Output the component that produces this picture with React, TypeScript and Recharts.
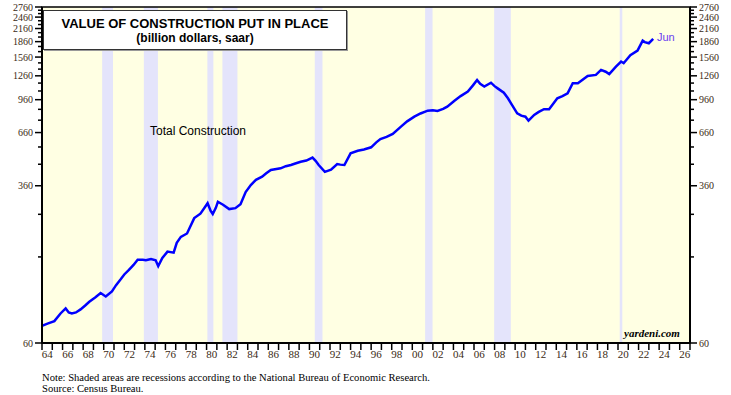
import React from 'react';
import { ComposedChart, Line, XAxis, YAxis, ReferenceArea } from 'recharts';

// decimal year of each reading
const dates = [
  1964.0, 1964.6, 1965.2, 1965.8, 1966.3, 1966.6, 1966.9, 1967.3, 1967.75, 1968.2,
  1968.6, 1969.2, 1969.7, 1970.2, 1970.8, 1971.2, 1971.65, 1972.0, 1972.45, 1972.9,
  1973.3, 1973.8, 1974.1, 1974.6, 1975.05, 1975.3, 1975.7, 1976.2, 1976.8, 1977.1,
  1977.5, 1978.1, 1978.8, 1979.4, 1979.8, 1980.1, 1980.4, 1980.6, 1980.9, 1981.1,
  1981.6, 1982.2, 1982.8, 1983.3, 1983.8, 1984.3, 1984.8, 1985.4, 1985.8, 1986.25,
  1987.2, 1987.7, 1988.2, 1988.7, 1989.15, 1989.7, 1990.3, 1990.6, 1990.9, 1991.5,
  1992.1, 1992.7, 1993.0, 1993.4, 1994.0, 1994.7, 1995.3, 1996.0, 1996.5, 1996.9,
  1997.5, 1998.1, 1998.9, 1999.5, 2000.2, 2000.8, 2001.5, 2002.0, 2002.45, 2003.0,
  2003.4, 2004.1, 2004.7, 2005.4, 2005.9, 2006.3, 2006.6, 2007.0, 2007.65, 2008.0,
  2008.3, 2008.9, 2009.3, 2009.6, 2010.2, 2010.6, 2011.0, 2011.3, 2011.85, 2012.3,
  2012.8, 2013.3, 2014.1, 2014.6, 2015.1, 2015.6, 2016.1, 2017.05, 2017.85, 2018.35,
  2018.8, 2019.15, 2019.8, 2020.3, 2020.55, 2021.2, 2021.9, 2022.4, 2022.6, 2023.0,
  2023.42,
];

// total construction, billion dollars saar
const values = [
  73, 75, 77, 84, 89, 85, 84, 85, 88, 92,
  96, 101, 106, 102, 108, 116, 124, 131, 138, 146,
  155, 155, 154, 156, 154, 144, 158, 170, 168, 188,
  201, 209, 249, 262, 280, 295, 270, 261, 280, 300,
  290, 276, 279, 292, 335, 363, 385, 399, 415, 431,
  439, 450, 456, 465, 473, 480, 496, 478, 456, 422,
  432, 461, 458, 456, 521, 536, 544, 558, 590, 613,
  628, 650, 706, 750, 791, 820, 847, 852, 845, 865,
  887, 948, 1000, 1052, 1130, 1200, 1150, 1115, 1165, 1120,
  1092, 1039, 975, 921, 822, 800, 791, 756, 807, 835,
  861, 861, 976, 1000, 1032, 1158, 1158, 1259, 1273, 1348,
  1320, 1284, 1398, 1483, 1455, 1595, 1678, 1880, 1850, 1826,
  1918,
];

const recessionStarts = [1969.85, 1973.9, 1980.08, 1981.54, 1990.52, 2001.25, 2007.96, 2020.17];
const recessionEnds = [1970.9, 1975.27, 1980.66, 1983.0, 1991.27, 2001.97, 2009.58, 2020.42];

const yTicks = Array.from({ length: 28 }, (_, i) => 60 + i * 100);
const yMajor = [60, 360, 660, 960, 1260, 1560, 1860, 2160, 2460, 2760];
const xTicks = Array.from({ length: 64 }, (_, i) => 1964 + i);

const data = dates.map((d, i) => ({ year: d, v: values[i] }));

const W = 731;
const H = 395;
const PLOT_LEFT = 42;
const PLOT_RIGHT = 690;
const PX_PER_YEAR = (PLOT_RIGHT - PLOT_LEFT) / 63;
const serif = '"Liberation Serif", "DejaVu Serif", serif';
const sans = '"Liberation Sans", Arial, sans-serif';

const YTick = ({ x, y, payload, side }: any) => {
  const major = yMajor.includes(payload.value);
  const dir = side === 'left' ? -1 : 1;
  const len = major ? 7 : 4;
  return (
    <g>
      <line x1={x} x2={x + dir * len} y1={y} y2={y} stroke="#000" strokeWidth={1.5} />
      {major && (
        <text
          x={x + dir * 9}
          y={y}
          dy={3.5}
          textAnchor={side === 'left' ? 'end' : 'start'}
          fontFamily={serif}
          fontSize={10}
          fill="#3a2a14"
        >
          {payload.value}
        </text>
      )}
    </g>
  );
};

const XTick = ({ x, y, payload }: any) => {
  const yr = payload.value;
  const showLabel = yr % 2 === 0 && yr < 2027;
  return (
    <g>
      <line x1={x} x2={x} y1={y} y2={y + 7} stroke="#000" strokeWidth={1.5} />
      {showLabel && (
        <text
          x={x + PX_PER_YEAR / 2}
          y={y + 15}
          textAnchor="middle"
          fontFamily={serif}
          fontSize={11}
          fill="#3a2a14"
        >
          {String(yr % 100).padStart(2, '0')}
        </text>
      )}
    </g>
  );
};

export default function App() {
  return (
    <div style={{ position: 'absolute', left: 0, top: 0, width: W, height: H, background: '#fff' }}>
      <ComposedChart width={W} height={H} data={data} margin={{ top: 7, right: 0, left: 0, bottom: 0 }}>
        <XAxis
          dataKey="year"
          type="number"
          domain={[1964, 2027]}
          ticks={xTicks}
          interval={0}
          tickSize={0}
          tickMargin={0}
          tickLine={false}
          tick={(p: any) => <XTick {...p} />}
          axisLine={{ stroke: '#000', strokeWidth: 2 }}
          height={52}
          allowDataOverflow
        />
        <YAxis
          yAxisId="left"
          scale="log"
          domain={[60, 2760]}
          ticks={yTicks}
          interval={0}
          tickSize={0}
          tickMargin={0}
          tickLine={false}
          tick={(p: any) => <YTick {...p} side="left" />}
          axisLine={{ stroke: '#000', strokeWidth: 2 }}
          width={42}
          allowDataOverflow
        />
        <YAxis
          yAxisId="right"
          orientation="right"
          scale="log"
          domain={[60, 2760]}
          ticks={yTicks}
          interval={0}
          tickSize={0}
          tickMargin={0}
          tickLine={false}
          tick={(p: any) => <YTick {...p} side="right" />}
          axisLine={{ stroke: '#000', strokeWidth: 2 }}
          width={41}
          allowDataOverflow
        />
        <ReferenceArea yAxisId="left" x1={1964} x2={2027} y1={60} y2={2760} fill="#ffffe3" fillOpacity={1} />
        {recessionStarts.map((s, i) => (
          <ReferenceArea
            key={s}
            yAxisId="left"
            x1={s}
            x2={recessionEnds[i]}
            y1={60}
            y2={2760}
            fill="#e4e4fb"
            fillOpacity={1}
          />
        ))}
        <ReferenceArea
          yAxisId="left"
          x1={1964}
          x2={2027}
          y1={60}
          y2={2760}
          fill="none"
          stroke="#000"
          strokeWidth={1.5}
        />
        <Line
          yAxisId="left"
          type="linear"
          dataKey="v"
          stroke="#0000ff"
          strokeWidth={2.5}
          dot={false}
          isAnimationActive={false}
        />
      </ComposedChart>

      <div
        style={{
          position: 'absolute',
          left: 43,
          top: 10,
          width: 302,
          height: 38,
          background: '#fff',
          border: '1.5px solid #333',
          boxShadow: '1px 1px 0 #999',
          fontFamily: sans,
          fontWeight: 'bold',
          textAlign: 'center',
          color: '#000',
        }}
      >
        <div style={{ fontSize: 13, marginTop: 5, lineHeight: '15px' }}>VALUE OF CONSTRUCTION PUT IN PLACE</div>
        <div style={{ fontSize: 12, lineHeight: '15px' }}>(billion dollars, saar)</div>
      </div>

      <div style={{ position: 'absolute', left: 150, top: 124, fontFamily: sans, fontSize: 12, color: '#000' }}>
        Total Construction
      </div>
      <div style={{ position: 'absolute', left: 657, top: 31, fontFamily: sans, fontSize: 11, color: '#6a3cf0' }}>
        Jun
      </div>
      <div
        style={{
          position: 'absolute',
          left: 624,
          top: 327,
          fontFamily: serif,
          fontSize: 11,
          fontWeight: 'bold',
          fontStyle: 'italic',
          color: '#000',
        }}
      >
        yardeni.com
      </div>
      <div
        style={{
          position: 'absolute',
          left: 42,
          top: 372,
          fontFamily: serif,
          fontSize: 10.6,
          lineHeight: '11px',
          color: '#000',
        }}
      >
        <div>Note: Shaded areas are recessions according to the National Bureau of Economic Research.</div>
        <div>Source: Census Bureau.</div>
      </div>
    </div>
  );
}
